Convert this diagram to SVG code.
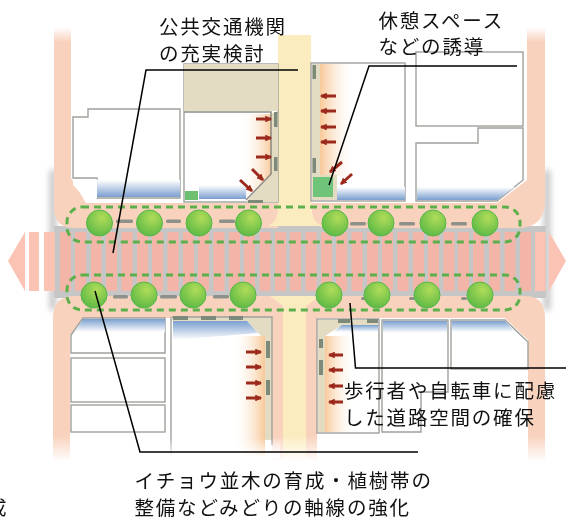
<svg xmlns="http://www.w3.org/2000/svg" width="566" height="520" viewBox="0 0 566 520">
<style>
.b{fill:#fff;stroke:#a0a09c;stroke-width:1.4}
.bn{fill:none;stroke:#a0a09c;stroke-width:1.4}
.o{fill:none;stroke:#8f8f88;stroke-width:1.6}
.bg{fill:#e3dcc3}
.p{fill:#f9d2bd}
.y{fill:#fbecc0}
.st{fill:#f2b5a8}
.st2{fill:#fbc3b4}
.tag{fill:#7d8a7a}
.tg{fill:#8e908a}
.t{fill:url(#tree);stroke:#55b848;stroke-width:1}
.d{fill:none;stroke:#5cb04c;stroke-width:3;stroke-dasharray:7 5}
.a{fill:none;stroke:#9c2a1c;stroke-width:3;marker-end:url(#ah)}
.l{fill:none;stroke:#000;stroke-width:1.5}
.x{font-family:"Noto Sans CJK JP","Noto Sans",sans-serif;font-size:19.5px;letter-spacing:1.8px;fill:#111}
</style>
<defs>
<marker id="ah" viewBox="0 0 6 6" refX="5" refY="3" markerWidth="2.300" markerHeight="2.300" orient="auto"><path d="M0 0L6 3L0 6z" fill="#9c2a1c"/></marker>
<filter id="s" x="-5%" y="-5%" width="110%" height="110%"><feGaussianBlur stdDeviation="0.55"/></filter>
<filter id="w" filterUnits="userSpaceOnUse" x="30" y="140" width="540" height="200"><feGaussianBlur stdDeviation="3"/></filter>
<radialGradient id="tree" cx="0.6" cy="0.3" r="0.8"><stop offset="0" stop-color="#b0dc58"/><stop offset="1" stop-color="#55b545"/></radialGradient>
<linearGradient id="bu" x1="0" y1="0" x2="0" y2="1"><stop offset="0" stop-color="#fff"/><stop offset="1" stop-color="#7b9fcf"/></linearGradient>
<linearGradient id="bd" x1="0" y1="0" x2="0" y2="1"><stop offset="0" stop-color="#7b9fcf"/><stop offset="1" stop-color="#fff"/></linearGradient>
<linearGradient id="or" x1="0" y1="0" x2="1" y2="0"><stop offset="0" stop-color="#fff" stop-opacity="0"/><stop offset="1" stop-color="#f8c898"/></linearGradient>
<linearGradient id="ol" x1="0" y1="0" x2="1" y2="0"><stop offset="0" stop-color="#f8c898"/><stop offset="1" stop-color="#fff" stop-opacity="0"/></linearGradient>
<linearGradient id="ft" x1="0" y1="0" x2="0" y2="1"><stop offset="0" stop-color="#fff"/><stop offset="1" stop-color="#fff" stop-opacity="0"/></linearGradient>
<linearGradient id="fb" x1="0" y1="0" x2="0" y2="1"><stop offset="0" stop-color="#fff" stop-opacity="0"/><stop offset="1" stop-color="#fff"/></linearGradient>
</defs>
<rect width="566" height="520" fill="#fff"/>
<g id="map" filter="url(#s)">
<g id="roads">
<rect x="50" y="170" width="6" height="140" fill="#bdbdbd" filter="url(#w)"/>
<rect x="544" y="170" width="6" height="140" fill="#bdbdbd" filter="url(#w)"/>
<rect x="54" y="226" width="492" height="72" fill="#c6c6c6"/>
<path class="p" d="M54 27H71V178L86 203H278V228H75Q54 228 54 208Z"/>
<path class="p" d="M311 203H497L527 180V27H545V200Q545 228 518 228H325Q311 226 311 203Z"/>
<path class="p" d="M53 460V318Q53 296 75 296H525Q545 296 545 318V460H528V340L505 318H317V460H306V305H283V460H272V318H83L70 335V460Z"/>
<path class="y" d="M278 35H311V208Q312 222 322 226H268Q278 222 278 208Z"/>
<path class="y" d="M270 296H320L306 306V460H283V306Z"/>
<rect x="50" y="27" width="30" height="15" fill="url(#ft)"/>
<rect x="520" y="27" width="30" height="15" fill="url(#ft)"/>
<rect x="50" y="436" width="500" height="26" fill="url(#fb)"/>
</g>
<g id="stripes">
<path class="st2" d="M8 261L25 232V291Z"/>
<path class="st2" d="M566 261L549 232V291Z"/>
<rect class="st2" x="29" y="232" width="10" height="59"/>
<rect class="st2" x="44" y="232" width="11" height="59"/>
<rect class="st" x="60" y="232" width="11" height="59"/>
<rect class="st" x="75" y="232" width="11" height="59"/>
<rect class="st" x="91" y="232" width="10.500" height="59"/>
<rect class="st" x="106" y="232" width="11" height="59"/>
<rect class="st" x="121.500" y="232" width="11" height="59"/>
<rect class="st" x="137" y="232" width="11" height="59"/>
<rect class="st" x="152" y="232" width="11" height="59"/>
<rect class="st" x="167.500" y="232" width="11" height="59"/>
<rect class="st" x="183" y="232" width="11" height="59"/>
<rect class="st" x="198" y="232" width="11" height="59"/>
<rect class="st" x="213.500" y="232" width="11" height="59"/>
<rect class="st" x="229" y="232" width="11" height="59"/>
<rect class="st" x="244" y="232" width="11" height="59"/>
<rect class="st" x="259.500" y="232" width="11" height="59"/>
<rect class="st" x="275" y="232" width="11" height="59"/>
<rect class="st" x="290" y="232" width="11" height="59"/>
<rect class="st" x="305.500" y="232" width="11" height="59"/>
<rect class="st" x="321" y="232" width="11" height="59"/>
<rect class="st" x="336" y="232" width="11" height="59"/>
<rect class="st" x="351.500" y="232" width="11" height="59"/>
<rect class="st" x="367" y="232" width="11" height="59"/>
<rect class="st" x="382" y="232" width="11" height="59"/>
<rect class="st" x="397.500" y="232" width="11" height="59"/>
<rect class="st" x="413" y="232" width="11" height="59"/>
<rect class="st" x="428" y="232" width="11" height="59"/>
<rect class="st" x="443.500" y="232" width="11" height="59"/>
<rect class="st" x="458" y="232" width="11" height="59"/>
<rect class="st" x="473" y="232" width="11" height="59"/>
<rect class="st" x="489" y="232" width="11" height="59"/>
<rect class="st" x="504.500" y="232" width="11" height="59"/>
<rect class="st" x="520" y="232" width="11" height="59"/>
<rect class="st2" x="535" y="232" width="10.500" height="59"/>
</g>
<g id="block-top-left">
<path class="b" d="M73 117H88V109H180V198H97V178H73Z"/>
<rect x="97" y="180" width="83" height="17" fill="url(#bu)"/>
<path fill="#fff" d="M73 179H97V198L88 201 73 185Z"/>
</g>
<g id="block-top-center">
<rect class="b" x="184" y="64" width="94" height="138"/>
<rect class="bg" x="184" y="64" width="94" height="47"/>
<rect x="240" y="114" width="32" height="85" fill="url(#or)"/>
<rect x="199" y="185" width="47" height="14" fill="url(#bu)"/>
<path class="bg" d="M272 113H278V202H246L272 174Z"/>
<path class="o" d="M184 112H271V174L246 200"/>
<rect x="185" y="191" width="13" height="9" fill="#6cc070"/>
<rect class="tag" x="274" y="112" width="3.500" height="15"/>
<rect class="tag" x="274" y="157" width="3.500" height="14"/>
<rect class="tag" x="248" y="200" width="15" height="3"/>
<path class="a" d="M256 119H271"/><path class="a" d="M256 138H271"/><path class="a" d="M256 157H271"/>
<path class="a" d="M252 169L263 180"/><path class="a" d="M240 180L252 191"/>
</g>
<g id="block-top-center-right">
<rect class="b" x="311" y="63" width="94" height="138"/>
<rect class="bg" x="312" y="64" width="8" height="136"/>
<rect x="320" y="64" width="36" height="112" fill="url(#ol)"/>
<rect x="337" y="187" width="68" height="13" fill="url(#bu)"/>
<path class="bg" d="M312 175H337V200H312Z"/>
<rect x="313" y="177" width="20" height="20" fill="#70c47a"/>
<rect class="tag" x="312.500" y="65" width="3.500" height="14"/>
<rect class="tag" x="312.500" y="158" width="3.500" height="15"/>
<path class="a" d="M336 96H321"/><path class="a" d="M336 111H321"/><path class="a" d="M336 127H321"/><path class="a" d="M336 142H321"/>
<path class="a" d="M342 162L330 172"/><path class="a" d="M352 174L341 184"/>
</g>
<g id="block-top-right">
<rect class="b" x="416" y="52" width="107" height="74"/>
<path class="b" d="M416 143H478V128H523V180L497 201H416Z"/>
<path d="M417 187H515L497 200H417Z" fill="url(#bu)"/>
</g>
<g id="block-bottom-left">
<path class="b" d="M71 335L83 318H165V353H71Z"/>
<rect class="b" x="71" y="358" width="94" height="44"/>
<rect class="b" x="71" y="405" width="94" height="27"/>
<path d="M83 319H165V332H75Z" fill="url(#bd)"/>
</g>
<g id="block-bottom-center">
<path class="bg" d="M172 317H272V440H265V340L247 321H172Z"/>
<path class="bn" d="M171 317V455M172 317H272V445"/>
<rect x="172" y="321" width="93" height="135" fill="#fff"/>
<path class="bg" d="M247 321L265 340V321Z"/>
<rect x="232" y="336" width="33" height="120" fill="url(#or)"/>
<path d="M173 321H247L258 333 173 340Z" fill="url(#bd)"/>
<rect class="tag" x="173" y="316" width="15" height="4"/>
<rect class="tag" x="201" y="316" width="15" height="4"/>
<rect class="tag" x="229" y="316" width="14" height="4"/>
<rect class="tag" x="266" y="341" width="4" height="17"/>
<rect class="tag" x="266" y="380" width="4" height="15"/>
<path class="a" d="M246 352H261"/><path class="a" d="M246 367H261"/><path class="a" d="M246 383H261"/><path class="a" d="M246 398H261"/>
<rect x="165" y="438" width="115" height="20" fill="url(#fb)"/>
</g>
<g id="block-bottom-center-right">
<rect class="b" x="317" y="319" width="62" height="114"/>
<path class="bg" d="M318 320H378V325H342L325 336V432H318Z"/>
<rect x="325" y="336" width="30" height="96" fill="url(#ol)"/>
<path d="M342 325H378V332H333Z" fill="url(#bd)"/>
<rect class="tag" x="338" y="319" width="12" height="4"/>
<rect class="tag" x="367" y="319" width="11" height="4"/>
<rect class="tag" x="319" y="339" width="4" height="9"/>
<rect class="tag" x="319" y="360" width="4" height="15"/>
<path class="a" d="M343 355H329"/><path class="a" d="M343 370H329"/><path class="a" d="M343 386H329"/><path class="a" d="M343 402H329"/>
</g>
<g id="block-bottom-right">
<path class="b" d="M382 320H448V392H421V432H382Z"/>
<rect x="383" y="321" width="64" height="12" fill="url(#bd)"/>
<path class="b" d="M451 320H505L528 342V369H451Z"/>
<path d="M452 321H505L515 332H452Z" fill="url(#bd)"/>
</g>
<g id="planting">
<rect class="d" x="67" y="207" width="453" height="35" rx="15"/>
<rect class="d" x="67" y="275" width="453" height="35" rx="15"/>
<rect class="tg" x="116" y="219.500" width="17" height="3.500" rx="1.500"/>
<rect class="tg" x="166" y="219.500" width="15" height="3.500" rx="1.500"/>
<rect class="tg" x="219" y="219.500" width="16" height="3.500" rx="1.500"/>
<rect class="tg" x="350" y="222" width="16" height="3.500" rx="1.500"/>
<rect class="tg" x="399" y="222" width="16" height="3.500" rx="1.500"/>
<rect class="tg" x="451" y="222" width="16" height="3.500" rx="1.500"/>
<rect class="tg" x="113" y="295" width="15" height="3.500" rx="1.500"/>
<rect class="tg" x="160" y="295" width="17" height="3.500" rx="1.500"/>
<rect class="tg" x="213" y="295" width="16" height="3.500" rx="1.500"/>
<rect class="tg" x="361" y="297" width="5" height="3" rx="1.500"/>
<rect class="tg" x="409" y="297" width="6" height="3" rx="1.500"/>
<rect class="tg" x="461" y="297" width="6" height="3" rx="1.500"/>
<circle class="t" cx="99.500" cy="223" r="13"/><circle class="t" cx="149.500" cy="223" r="13"/><circle class="t" cx="199" cy="223" r="13"/><circle class="t" cx="248.500" cy="223" r="13"/>
<circle class="t" cx="335" cy="223" r="13"/><circle class="t" cx="381" cy="223" r="13"/><circle class="t" cx="433" cy="223" r="13"/><circle class="t" cx="485" cy="223" r="13"/>
<circle class="t" cx="94" cy="295" r="13"/><circle class="t" cx="144" cy="295" r="13"/><circle class="t" cx="193" cy="295" r="13"/><circle class="t" cx="243" cy="295" r="13"/>
<circle class="t" cx="329" cy="295" r="13"/><circle class="t" cx="377" cy="295" r="13"/><circle class="t" cx="427" cy="295" r="13"/><circle class="t" cx="480" cy="295" r="13"/>
</g>
</g>
<g id="connectors">
<path class="l" d="M298 70H146L113 253"/>
<path class="l" d="M517 66H369L329 185"/>
<path class="l" d="M95 291L140 452H418"/>
<path class="l" d="M350 303L355.500 368H566"/>
</g>
<g id="labels">
<text class="x" x="159" y="34">公共交通機関</text>
<text class="x" x="159" y="61">の充実検討</text>
<text class="x" x="378.500" y="28">休憩スペース</text>
<text class="x" x="378.500" y="54">などの誘導</text>
<text class="x" x="344" y="398">歩行者や自転車に配慮</text>
<text class="x" x="344" y="425">した道路空間の確保</text>
<text class="x" x="134.500" y="488">イチョウ並木の育成・植樹帯の</text>
<text class="x" x="134.500" y="515">整備などみどりの軸線の強化</text>
<text class="x" x="-13" y="515">成</text>
</g>
</svg>
